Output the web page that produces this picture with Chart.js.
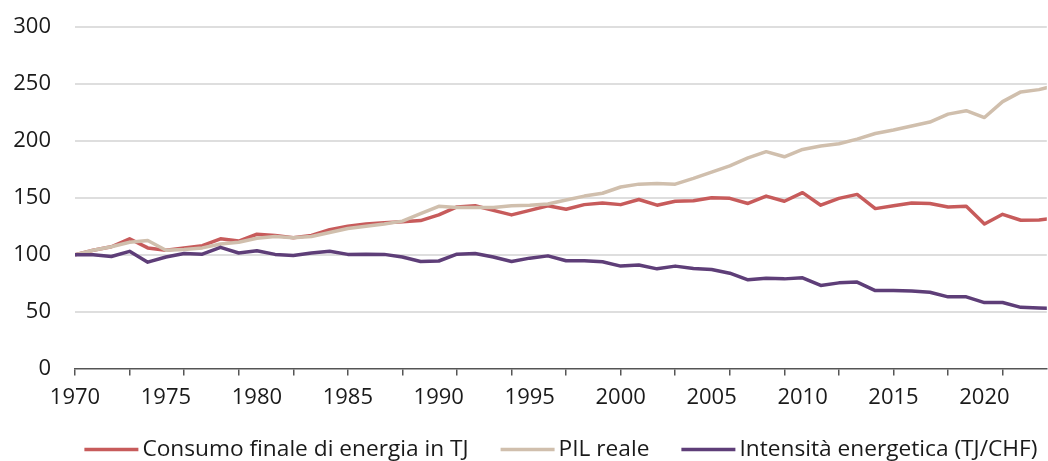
<!DOCTYPE html>
<html>
<head>
<meta charset="utf-8">
<script src="https://cdn.jsdelivr.net/npm/chart.js@4"></script>
<style>
  html, body { margin: 0; padding: 0; background: #fff; overflow: hidden; }
  #wrap { width: 1048px; height: 461px; position: relative; }
</style>
</head>
<body>
<div id="wrap"><canvas id="energyChart"></canvas></div>
<script>
// years shown (last point runs past the right edge, like the source)
const years = [];
for (let y = 1970; y <= 2024; y++) years.push(y);

const seriesNames = ['Consumo finale di energia in TJ', 'PIL reale', 'Intensità energetica (TJ/CHF)'];

const consumo = [100, 104, 107, 114, 106, 104, 106, 108, 114, 112,
                 118, 117, 115, 117, 122, 125, 127, 128, 129, 130,
                 135, 142, 143, 139, 135, 139, 143, 140, 144, 145.5,
                 144, 148.5, 143.5, 147, 147.5, 150, 149.5, 145, 151.5, 147,
                 154.5, 143.5, 149.5, 153, 140.5, 143, 145.5, 145, 142, 142.5,
                 127, 135.5, 130.3, 130.6, 132.5];

const pil = [100, 104, 107, 111, 112.5, 104, 104.5, 106, 109.5, 111,
             114.5, 116, 115, 116, 119.5, 123, 125, 127, 129.5, 136,
             142.5, 141.5, 141.5, 141.5, 143, 143.5, 144.5, 148, 151.5, 154,
             159.5, 162, 162.5, 162, 167, 172.5, 178, 185, 190.5, 186,
             192.5, 195.5, 197.5, 201.5, 206.5, 209.5, 213, 216.5, 223.5, 226.5,
             220.5, 234.5, 243, 245, 249];

const intensita = [100, 100, 98.5, 103, 93.5, 98, 101, 100.5, 106.5, 101.5,
                   103.5, 100.3, 99.4, 101.5, 103, 100.3, 100.5, 100.3, 98, 94,
                   94.5, 100.5, 101, 98, 94, 97, 99, 94.7, 94.7, 93.8,
                   90, 91, 87.6, 90, 88, 87, 83.8, 78, 79.4, 78.8,
                   79.7, 73, 75.3, 76, 68.5, 68.5, 68.2, 67, 63, 63,
                   58, 58, 53.8, 53.2, 52.8];

const yTicks = [0, 50, 100, 150, 200, 250, 300];

const colors = ['#c75b5b', '#d0bfad', '#5e3e78'];
const FONT = "'Open Sans', 'DejaVu Sans', sans-serif";

function points(vals) {
    return years.map((yr, i) => ({ x: yr, y: vals[i] }));
}

// legend drawn by hand so the swatch/text spacing matches
const lineLegend = {
    id: 'lineLegend',
    afterDraw(chart) {
        const ctx = chart.ctx;
        const area = chart.chartArea;
        const sw = 54, gap = 4, between = 32;
        ctx.save();
        ctx.font = '22.7px ' + FONT;
        ctx.textBaseline = 'middle';
        let total = 0;
        const widths = seriesNames.map(n => ctx.measureText(n).width);
        widths.forEach((w, i) => { total += sw + gap + w + (i < widths.length - 1 ? between : 0); });
        let x = (area.left + area.right) / 2 - total / 2;
        const y = 449.5;
        seriesNames.forEach((name, i) => {
            ctx.strokeStyle = colors[i];
            ctx.lineWidth = 3.5;
            ctx.beginPath();
            ctx.moveTo(x, y);
            ctx.lineTo(x + sw, y);
            ctx.stroke();
            ctx.fillStyle = '#1a1a1a';
            ctx.textAlign = 'left';
            ctx.fillText(name, x + sw + gap, y);
            x += sw + gap + widths[i] + between;
        });
        ctx.restore();
    }
};

const ctx = document.getElementById('energyChart').getContext('2d');
new Chart(ctx, {
    type: 'line',
    data: {
        datasets: [
            { label: seriesNames[0], data: points(consumo), borderColor: colors[0], order: 2 },
            { label: seriesNames[1], data: points(pil), borderColor: colors[1], order: 1 },
            { label: seriesNames[2], data: points(intensita), borderColor: colors[2], order: 0 }
        ]
    },
    options: {
        responsive: true,
        maintainAspectRatio: false,
        animation: false,
        devicePixelRatio: 1,
        layout: { padding: { top: 27, right: 0, bottom: 41, left: 0 } },
        elements: {
            line: { borderWidth: 3.5, tension: 0, borderJoinStyle: 'round', fill: false },
            point: { radius: 0, hoverRadius: 0 }
        },
        plugins: {
            legend: { display: false },
            tooltip: { enabled: false }
        },
        scales: {
            x: {
                type: 'linear',
                min: 1970,
                max: 2023.43,
                grid: {
                    drawOnChartArea: false,
                    drawTicks: true,
                    tickLength: 7,
                    lineWidth: 1.5,
                    color: c => (c.tick && (c.tick.value - 1970) % 3 === 0) ? '#555' : 'rgba(0,0,0,0)'
                },
                border: { display: true, color: '#555', width: 1.5 },
                ticks: {
                    stepSize: 1,
                    autoSkip: false,
                    maxRotation: 0,
                    includeBounds: false,
                    padding: 9,
                    color: '#1a1a1a',
                    font: { family: FONT, size: 22 },
                    callback: v => (v % 5 === 0 ? String(v) : '')
                }
            },
            y: {
                min: 0,
                max: 300,
                afterFit: s => { s.width = 75; s.paddingTop = 0; s.paddingBottom = 0; },
                afterBuildTicks: s => { s.ticks = yTicks.map(v => ({ value: v })); },
                grid: {
                    drawTicks: false,
                    lineWidth: 2,
                    color: c => (c.tick && c.tick.value === 0) ? 'rgba(0,0,0,0)' : '#dedede'
                },
                border: { display: false },
                ticks: {
                    padding: 24,
                    color: '#1a1a1a',
                    font: { family: FONT, size: 22 }
                }
            }
        }
    },
    plugins: [lineLegend]
});
</script>
</body>
</html>
